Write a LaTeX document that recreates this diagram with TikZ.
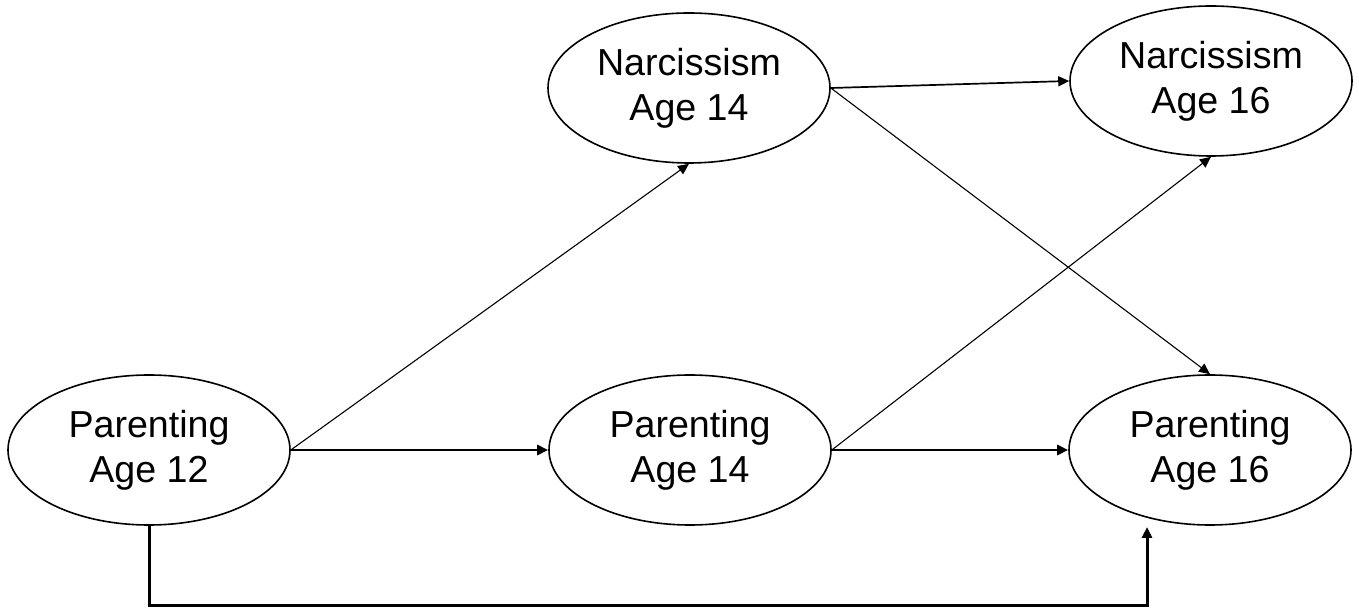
\documentclass[tikz,border=0pt]{standalone}
\usepackage{fontspec}
\setmainfont{Liberation Sans}
\usetikzlibrary{shapes.geometric,arrows.meta}
\begin{document}
\begin{tikzpicture}[x=0.5pt,y=-0.5pt,
  var/.style={draw,ellipse,line width=0.8pt,minimum width=141pt,minimum height=75pt,inner sep=0pt,align=center,font=\fontsize{18.8}{22.5}\selectfont},
  tip/.style={-{Triangle[length=5.5pt,width=5pt]}},
  thick path/.style={tip,line width=1.3pt},
  thin path/.style={tip,line width=0.55pt},
  mid path/.style={tip,line width=0.85pt}]
\useasboundingbox (0,0) rectangle (1359,608);
\node[var] (P12) at (149,450) {Parenting\\Age 12};
\node[var] (P14) at (690,450) {Parenting\\Age 14};
\node[var] (P16) at (1210,450) {Parenting\\Age 16};
\node[var] (N14) at (689,88) {Narcissism\\Age 14};
\node[var] (N16) at (1211,81) {Narcissism\\Age 16};
\coordinate (end) at (1147,527);
\coordinate (bot) at (0,605);
\draw[thick path] (P12.east) -- (P14.west);
\draw[thick path] (P14.east) -- (P16.west);
\draw[thin path] (P12.east) -- (N14.south);
\draw[thin path] (P14.east) -- (N16.south);
\draw[mid path] (N14.east) -- (N16.west);
\draw[thin path] (N14.east) -- (P16.north);
\draw[thick path,line width=1.5pt] (P12.south) -- (P12.south |- bot) -| (end);
\end{tikzpicture}
\end{document}
